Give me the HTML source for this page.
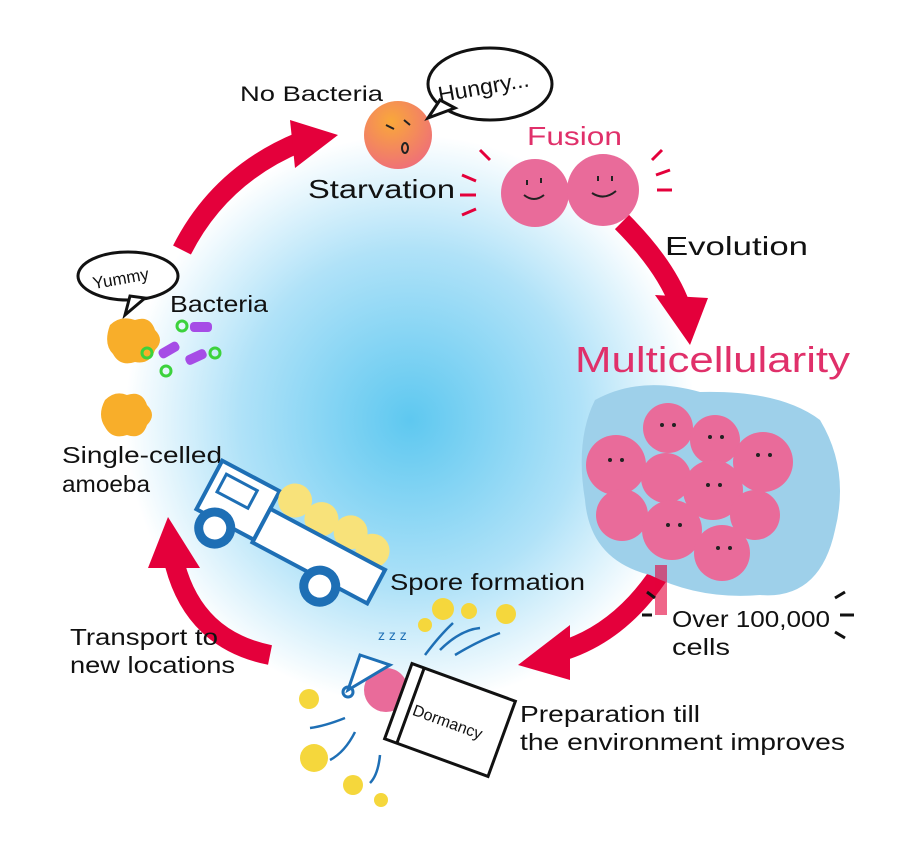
<!DOCTYPE html>
<html><head><meta charset="utf-8"><style>
body{margin:0;background:#fff}
svg{display:block}
text{font-family:"Liberation Sans",sans-serif;fill:#111}
</style></head><body>
<svg width="900" height="853" viewBox="0 0 900 853" xmlns="http://www.w3.org/2000/svg">
<defs>
<radialGradient id="bg" cx="410" cy="420" r="285" gradientUnits="userSpaceOnUse">
<stop offset="0" stop-color="#5ec8f0"/><stop offset="0.6" stop-color="#b0e2f8"/><stop offset="1" stop-color="#ffffff"/>
</radialGradient>
<radialGradient id="or" cx="0.4" cy="0.3" r="0.8"><stop offset="0" stop-color="#f9a83a"/><stop offset="1" stop-color="#ee6a7e"/></radialGradient>
</defs>
<circle cx="410" cy="420" r="285" fill="url(#bg)"/>
<g fill="none" stroke="#e4003b" stroke-width="20">
<path d="M182 250 Q220 175 300 142"/>
<path d="M622 222 Q665 265 680 305"/>
<path d="M665 565 Q625 630 565 650"/>
<path d="M270 655 Q195 640 175 565"/>
</g>
<g fill="#e4003b">
<polygon points="290,120 338,135 295,168"/>
<polygon points="655,295 708,298 690,345"/>
<polygon points="570,625 570,680 518,665"/>
<polygon points="148,568 200,568 168,517"/>
</g>
<g lengthAdjust="spacingAndGlyphs">
<text x="240" y="101" font-size="21" textLength="143" lengthAdjust="spacingAndGlyphs">No Bacteria</text>
<text x="308" y="198" font-size="26" textLength="147" lengthAdjust="spacingAndGlyphs">Starvation</text>
<text x="527" y="145" font-size="26" textLength="95" lengthAdjust="spacingAndGlyphs" style="fill:#e0306a">Fusion</text>
<text x="665" y="255" font-size="26" textLength="143" lengthAdjust="spacingAndGlyphs">Evolution</text>
<text x="575" y="372" font-size="36" textLength="275" lengthAdjust="spacingAndGlyphs" style="fill:#e0306a">Multicellularity</text>
<text x="672" y="627" font-size="23" textLength="158" lengthAdjust="spacingAndGlyphs">Over 100,000</text>
<text x="672" y="655" font-size="23" textLength="58" lengthAdjust="spacingAndGlyphs">cells</text>
<text x="520" y="722" font-size="23" textLength="180" lengthAdjust="spacingAndGlyphs">Preparation till</text>
<text x="520" y="750" font-size="23" textLength="325" lengthAdjust="spacingAndGlyphs">the environment improves</text>
<text x="390" y="590" font-size="23" textLength="195" lengthAdjust="spacingAndGlyphs">Spore formation</text>
<text x="70" y="645" font-size="23" textLength="148" lengthAdjust="spacingAndGlyphs">Transport to</text>
<text x="70" y="673" font-size="23" textLength="165" lengthAdjust="spacingAndGlyphs">new locations</text>
<text x="62" y="463" font-size="23" textLength="160" lengthAdjust="spacingAndGlyphs">Single-celled</text>
<text x="62" y="492" font-size="23" textLength="88" lengthAdjust="spacingAndGlyphs">amoeba</text>
<text x="170" y="312" font-size="23" textLength="98" lengthAdjust="spacingAndGlyphs">Bacteria</text>
</g>
<circle cx="398" cy="135" r="34" fill="url(#or)"/>
<path d="M386 125 l8 4 M404 120 l6 5" stroke="#222" stroke-width="2"/>
<ellipse cx="405" cy="148" rx="3" ry="5" fill="none" stroke="#222" stroke-width="2"/>
<ellipse cx="490" cy="84" rx="62" ry="36" fill="#fff" stroke="#111" stroke-width="3"/>
<polygon points="440,100 428,118 455,108" fill="#fff" stroke="#111" stroke-width="3"/>
<text x="438" y="95" font-size="22" textLength="92" lengthAdjust="spacingAndGlyphs" transform="rotate(-10 480 90)">Hungry...</text>
<g stroke="#e4003b" stroke-width="3"><path d="M462 175 l14 6 M460 195 l16 0 M462 215 l14 -6 M480 150 l10 10 M662 150 l-10 10 M670 170 l-14 5 M672 190 l-15 0"/></g>
<circle cx="535" cy="193" r="34" fill="#e96b9a"/>
<circle cx="603" cy="190" r="36" fill="#e96b9a"/>
<g stroke="#222" stroke-width="2" fill="none"><path d="M527 180v5M541 178v5M524 195q10 8 20 0M598 176v5M612 176v5M592 193q12 8 24 -2"/></g>
<path d="M595 400 Q640 375 700 392 Q780 390 820 420 Q850 470 835 530 Q820 600 760 595 Q700 600 650 575 Q590 560 585 500 Q575 440 595 400Z" fill="#9ed0ea"/>
<g fill="#e96b9a">
<circle cx="668" cy="428" r="25"/><circle cx="715" cy="440" r="25"/><circle cx="763" cy="462" r="30"/>
<circle cx="616" cy="465" r="30"/><circle cx="666" cy="478" r="25"/><circle cx="713" cy="490" r="30"/>
<circle cx="755" cy="515" r="25"/><circle cx="622" cy="515" r="26"/><circle cx="672" cy="530" r="30"/><circle cx="722" cy="553" r="28"/>
</g>
<g fill="#222"><circle cx="662" cy="425" r="2"/><circle cx="674" cy="425" r="2"/><circle cx="710" cy="437" r="2"/><circle cx="722" cy="437" r="2"/><circle cx="610" cy="460" r="2"/><circle cx="622" cy="460" r="2"/><circle cx="708" cy="485" r="2"/><circle cx="720" cy="485" r="2"/><circle cx="668" cy="525" r="2"/><circle cx="680" cy="525" r="2"/><circle cx="718" cy="548" r="2"/><circle cx="730" cy="548" r="2"/><circle cx="758" cy="455" r="2"/><circle cx="770" cy="455" r="2"/></g>
<rect x="655" y="565" width="12" height="50" fill="#e4003b" opacity="0.6"/>
<g stroke="#111" stroke-width="3"><path d="M835 598 l10 -6 M840 615 l14 0 M835 632 l10 6 M655 598 l-8 -6 M652 615 l-10 0"/></g>
<g fill="#f5d73c"><circle cx="443" cy="609" r="11"/><circle cx="469" cy="611" r="8"/><circle cx="506" cy="614" r="10"/><circle cx="425" cy="625" r="7"/>
<circle cx="309" cy="699" r="10"/><circle cx="314" cy="758" r="14"/><circle cx="353" cy="785" r="10"/><circle cx="381" cy="800" r="7"/></g>
<g stroke="#1e6fb5" stroke-width="2.5" fill="none"><path d="M425 655 q15 -20 28 -32 M440 650 q20 -20 40 -22 M455 655 q25 -15 45 -22 M345 718 q-20 8 -35 10 M355 732 q-10 20 -25 28 M380 755 q-2 20 -10 28"/></g>
<text x="378" y="640" font-size="14" style="fill:#1e6fb5">z z z</text>
<circle cx="386" cy="690" r="22" fill="#e96b9a"/>
<path d="M348 690 L360 655 L390 665 Z" fill="#fff" stroke="#1e6fb5" stroke-width="3"/>
<circle cx="348" cy="692" r="5" fill="none" stroke="#1e6fb5" stroke-width="3"/>
<g transform="rotate(20 450 720)"><rect x="395" y="680" width="110" height="80" fill="#fff" stroke="#111" stroke-width="3"/><line x1="408" y1="680" x2="408" y2="760" stroke="#111" stroke-width="3"/><text x="412" y="728" font-size="16">Dormancy</text></g>
<g transform="translate(15,15) rotate(28 270 530)">
<rect x="175" y="485" width="65" height="55" fill="#fff" stroke="#1e6fb5" stroke-width="4"/>
<rect x="185" y="495" width="35" height="20" fill="#fff" stroke="#1e6fb5" stroke-width="3"/>
<g fill="#f8e27a"><circle cx="258" cy="486" r="17"/><circle cx="290" cy="490" r="17"/><circle cx="322" cy="488" r="17"/><circle cx="350" cy="494" r="17"/></g>
<rect x="240" y="505" width="130" height="38" fill="#fff" stroke="#1e6fb5" stroke-width="4"/>
<circle cx="200" cy="548" r="16" fill="#fff" stroke="#1e6fb5" stroke-width="9"/>
<circle cx="320" cy="550" r="16" fill="#fff" stroke="#1e6fb5" stroke-width="9"/>
</g>
<ellipse cx="128" cy="276" rx="50" ry="24" fill="#fff" stroke="#111" stroke-width="3"/>
<polygon points="130,296 125,315 145,298" fill="#fff" stroke="#111" stroke-width="3"/>
<text x="92" y="283" font-size="17" transform="rotate(-10 128 276)">Yummy</text>
<path d="M110 325 q10 -10 25 -5 q15 -5 20 10 q10 10 0 20 q-5 15 -20 12 q-15 5 -22 -8 q-10 -10 -3 -29Z" fill="#f8ae2a"/>
<path d="M105 400 q10 -10 22 -5 q15 -5 20 10 q10 10 0 20 q-5 15 -20 10 q-15 5 -22 -8 q-8 -12 0 -27Z" fill="#f8ae2a"/>
<g fill="none" stroke="#3cd23c" stroke-width="3"><circle cx="182" cy="326" r="5"/><circle cx="147" cy="353" r="5"/><circle cx="166" cy="371" r="5"/><circle cx="215" cy="353" r="5"/></g>
<g fill="#a64ce6"><rect x="190" y="322" width="22" height="10" rx="4"/><rect x="158" y="345" width="22" height="10" rx="4" transform="rotate(-30 169 350)"/><rect x="185" y="352" width="22" height="10" rx="4" transform="rotate(-25 196 357)"/></g>
</svg>
</body></html>
